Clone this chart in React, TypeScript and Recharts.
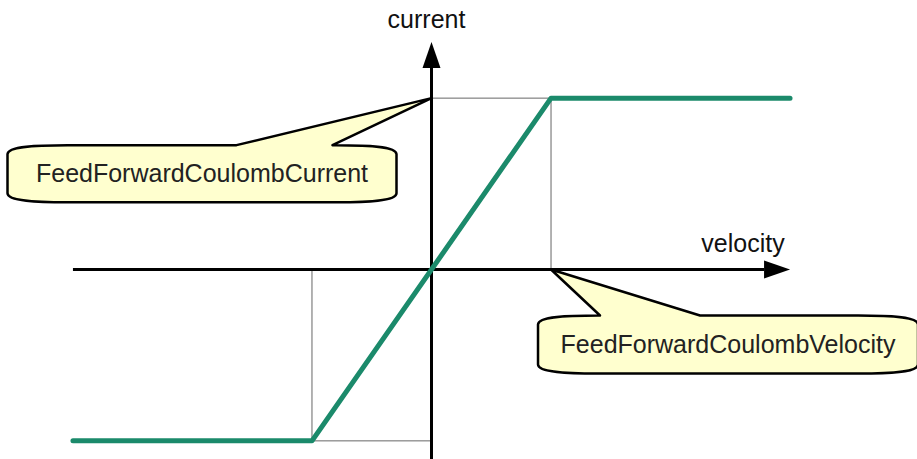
import { LineChart, Line, XAxis, YAxis, ReferenceLine, ReferenceDot } from "recharts";

// friction feed-forward characteristic: current vs velocity
const velocity = [-3, -1, 1, 3];
const current = [-1, -1, 1, 1];
const coulombVelocity = 1;
const coulombCurrent = 1;
const axisLabels = ["velocity", "current"];
const calloutTexts = ["FeedForwardCoulombCurrent", "FeedForwardCoulombVelocity"];

const data = velocity.map((v, i) => ({ velocity: v, current: current[i] }));

const GREEN = "#1b8a6b";
const FONT = "'Liberation Sans', Arial, sans-serif";
const FONT_SIZE = 25;

function ArrowLine(props: any) {
  const { x1, y1, x2, y2, text, tx, ty } = props;
  const len = Math.hypot(x2 - x1, y2 - y1);
  const ux = (x2 - x1) / len;
  const uy = (y2 - y1) / len;
  const head = 26;
  const half = 9;
  const bx = x2 - ux * head;
  const by = y2 - uy * head;
  const pts = `${x2},${y2} ${bx - uy * half},${by + ux * half} ${bx + uy * half},${by - ux * half}`;
  return (
    <g>
      <line x1={x1} y1={y1} x2={bx} y2={by} stroke="#000" strokeWidth={3} />
      <polygon points={pts} fill="#000" />
      <text x={x2 + tx} y={y2 + ty} textAnchor="middle" fontFamily={FONT} fontSize={FONT_SIZE} fill="#111">
        {text}
      </text>
    </g>
  );
}

function Callout(props: any) {
  const { cx, cy, l, r, t, b, p1, p2, text, textY } = props;
  const x0 = cx + l;
  const x1 = cx + r;
  const y0 = cy + t;
  const y1 = cy + b;
  const d = [
    `M ${x0} ${y0 + 9}`,
    `C ${x0} ${y0 + 1}, ${x0 + 30} ${y0}, ${x0 + 60} ${y0}`,
    `L ${cx + p1} ${y0}`,
    `L ${cx} ${cy}`,
    `L ${cx + p2} ${y0}`,
    `L ${x1 - 60} ${y0}`,
    `C ${x1 - 30} ${y0}, ${x1} ${y0 + 1}, ${x1} ${y0 + 9}`,
    `L ${x1} ${y1 - 9}`,
    `C ${x1} ${y1 - 1}, ${x1 - 30} ${y1}, ${x1 - 60} ${y1}`,
    `L ${x0 + 60} ${y1}`,
    `C ${x0 + 30} ${y1}, ${x0} ${y1 - 1}, ${x0} ${y1 - 9}`,
    "Z",
  ].join(" ");
  return (
    <g>
      <path d={d} fill="#ffffcf" stroke="#000" strokeWidth={2.5} strokeLinejoin="round" />
      <text x={(x0 + x1) / 2} y={cy + textY} textAnchor="middle" fontFamily={FONT} fontSize={FONT_SIZE} fill="#222">
        {text}
      </text>
    </g>
  );
}

export default function App() {
  return (
    <div style={{ position: "absolute", left: 0, top: 0, width: 917, height: 459, background: "#fff" }}>
      <LineChart width={917} height={459} data={data} margin={{ top: 81, right: 115, bottom: 1, left: 61 }}>
        <XAxis dataKey="velocity" type="number" domain={[-3.1, 3.1]} hide allowDataOverflow />
        <YAxis dataKey="current" type="number" domain={[-1.1, 1.1]} hide allowDataOverflow />

        {/* thin guides */}
        <ReferenceLine segment={[{ x: 0, y: coulombCurrent }, { x: coulombVelocity, y: coulombCurrent }]} stroke="#666" strokeWidth={1} ifOverflow="visible" />
        <ReferenceLine segment={[{ x: coulombVelocity, y: coulombCurrent }, { x: coulombVelocity, y: 0 }]} stroke="#666" strokeWidth={1} ifOverflow="visible" />
        <ReferenceLine segment={[{ x: -coulombVelocity, y: 0 }, { x: -coulombVelocity, y: -coulombCurrent }]} stroke="#666" strokeWidth={1} ifOverflow="visible" />
        <ReferenceLine segment={[{ x: -coulombVelocity, y: -coulombCurrent }, { x: 0, y: -coulombCurrent }]} stroke="#666" strokeWidth={1} ifOverflow="visible" />

        {/* axes with arrows */}
        <ReferenceLine
          segment={[{ x: -3, y: 0 }, { x: 3, y: 0 }]}
          ifOverflow="visible"
          shape={(p: any) => <ArrowLine {...p} text={axisLabels[0]} tx={-47} ty={-18} />}
        />
        <ReferenceLine
          segment={[{ x: 0, y: -1.2 }, { x: 0, y: 1.327 }]}
          ifOverflow="visible"
          shape={(p: any) => <ArrowLine {...p} text={axisLabels[1]} tx={-5} ty={-14} />}
        />

        <Line
          dataKey="current"
          type="linear"
          stroke={GREEN}
          strokeWidth={5}
          strokeLinecap="round"
          strokeLinejoin="round"
          dot={false}
          activeDot={false}
          isAnimationActive={false}
        />

        <ReferenceDot
          x={0}
          y={coulombCurrent}
          ifOverflow="visible"
          shape={(p: any) => (
            <Callout {...p} l={-424} r={-35} t={47} b={104} p1={-195} p2={-99} text={calloutTexts[0]} textY={84} />
          )}
        />
        <ReferenceDot
          x={coulombVelocity}
          y={0}
          ifOverflow="visible"
          shape={(p: any) => (
            <Callout {...p} l={-13} r={367} t={46} b={104} p1={49} p2={149} text={calloutTexts[1]} textY={83} />
          )}
        />
      </LineChart>
    </div>
  );
}
